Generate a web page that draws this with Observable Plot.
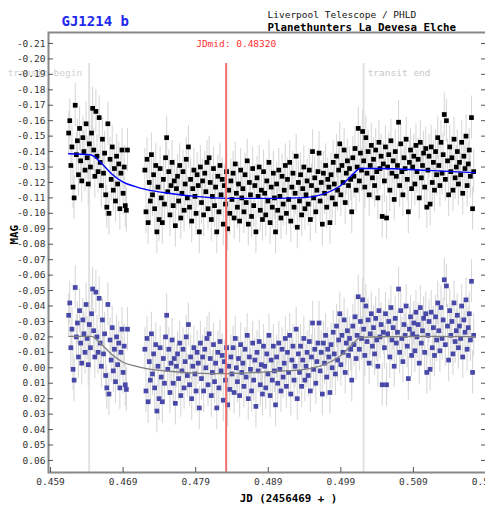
<!DOCTYPE html>
<html><head><meta charset="utf-8">
<script src="https://cdn.jsdelivr.net/npm/d3@7"></script>
<script src="https://cdn.jsdelivr.net/npm/@observablehq/plot@0.6"></script>
<style>html,body{margin:0;padding:0;overflow:hidden;background:#fff}#chart svg{max-width:none !important;}</style>
</head><body><div id="chart"></div>
<script>
// ---- texts ----
const titleText = "GJ1214 b";
const sourceLine1 = "Liverpool Telescope / PHLD";
const sourceLine2 = "Planethunters La Devesa Elche";
const xLabel = "JD (2456469 + )";
const yLabel = "MAG";
const midLabel = "JDmid: 0.48320";
const beginLabel = "transit begin";
const endLabel = "transit end";

// ---- events (JD - 2456469) ----
const jdMid = 0.48320;
const transitBegin = 0.46432;
const transitEnd = 0.50214;

// ---- ticks ----
const xTicks = [0.459, 0.469, 0.479, 0.489, 0.499, 0.509, 0.519];
const yTicks = [-0.21,-0.20,-0.19,-0.18,-0.17,-0.16,-0.15,-0.14,-0.13,-0.12,-0.11,-0.10,-0.09,-0.08,-0.07,-0.06,-0.05,-0.04,-0.03,-0.02,-0.01,0.00,0.01,0.02,0.03,0.04,0.05,0.06];

// ---- observation segments (start JD, cadence) ----
const seg1Start = 0.4615;
const seg2Start = 0.4720;
const cadence = 0.00015;
const magError = 0.014;

// raw magnitudes, milli-mag
const seg1Raw = [
-152,-160,-131,-143,-117,-110,-170,-138,-147,-125,
-155,-134,-121,-149,-140,-128,-158,-136,-119,-145,
-130,-152,-168,-141,-124,-166,-137,-127,-162,-133,
-118,-148,-126,-139,-112,-104,-158,-100,-135,-122,
-143,-115,-129,-108,-137,-119,-132,-103,-126,-141,
-113,-130,-105,-102,-141];
const seg2Raw = [
-128,-101,-135,-94,-120,-108,-138,-112,-125,-103,
-131,-88,-117,-96,-129,-110,-94,-122,-106,-136,
-149,-114,-127,-99,-118,-133,-105,-121,-92,-116,
-124,-108,-131,-97,-113,-127,-102,-119,-135,-110,
-143,-104,-122,-95,-116,-128,-111,-100,-125,-118,
-88,-130,-107,-121,-99,-126,-114,-133,-103,-136,
-120,-96,-111,-129,-105,-117,-88,-124,-101,-131,
-112,-122,-93,-118,-106,-127,-90,-115,-100,-121,
-109,-126,-97,-132,-113,-104,-119,-95,-128,-110,
-116,-101,-125,-107,-134,-93,-120,-112,-98,-129,
-105,-118,-88,-123,-111,-130,-102,-115,-96,-127,
-113,-99,-121,-108,-133,-94,-117,-104,-126,-110,
-88,-119,-102,-128,-111,-97,-124,-106,-115,-131,
-100,-122,-109,-133,-95,-117,-126,-104,-113,-137,
-91,-120,-108,-125,-99,-116,-130,-103,-112,-121,
-106,-128,-96,-118,-140,-110,-123,-101,-115,-127,
-139,-108,-120,-93,-126,-113,-131,-104,-122,-117,
-94,-125,-110,-133,-119,-106,-137,-115,-128,-145,
-112,-131,-120,-141,-107,-126,-134,-118,-129,-122,
-101,-136,-124,-142,-115,-130,-155,-121,-139,-128,
-153,-134,-117,-149,-126,-140,-112,-131,-144,-123,
-135,-118,-141,-127,-110,-146,-129,-137,-98,-132,
-121,-143,-97,-130,-138,-115,-147,-126,-134,-109,
-140,-124,-131,-159,-118,-145,-127,-112,-136,-129,
-148,-122,-101,-133,-141,-116,-130,-137,-119,-144,
-127,-135,-110,-146,-123,-131,-139,-117,-142,-104,
-128,-137,-106,-143,-120,-133,-115,-140,-125,-149,
-131,-118,-146,-126,-138,-164,-122,-160,-134,-112,
-143,-127,-136,-115,-148,-123,-130,-140,-119,-133,
-125,-146,-113,-137,-129,-150,-118,-132,-141,-124,
-162,-103,-127];

// detrended magnitudes, milli-mag
const seg1Det = [
-34,-42,-13,-25,1,8,-52,-20,-29,-7,
-37,-16,-3,-31,-22,-10,-41,-19,-2,-28,
-13,-35,-51,-24,-7,-49,-20,-10,-45,-16,
-1,-31,-9,-22,5,13,-41,17,-18,-5,
-26,2,-12,9,-20,-2,-16,13,-10,-25,
3,-14,11,14,-25];
const seg2Det = [
-12,15,-19,22,-4,8,-22,4,-9,13,
-15,28,-1,20,-13,6,22,-6,10,-20,
-34,1,-12,16,-3,-18,10,-6,23,-1,
-9,7,-16,18,2,-12,13,-4,-20,5,
-28,11,-7,20,-1,-13,4,15,-10,-3,
26,-16,7,-7,15,-12,0,-19,11,-22,
-6,18,3,-15,9,-3,26,-10,13,-17,
2,-8,21,-4,8,-13,24,-1,14,-7,
4,-13,16,-19,0,9,-6,18,-15,3,
-3,12,-12,6,-21,20,-7,1,15,-16,
8,-5,25,-10,2,-17,11,-2,17,-14,
-1,13,-9,4,-21,18,-5,8,-14,2,
24,-7,10,-16,1,15,-12,6,-3,-19,
12,-10,3,-21,17,-5,-14,8,-1,-25,
20,-9,3,-14,12,-5,-19,8,-1,-10,
5,-17,15,-7,-29,1,-12,10,-4,-16,
-29,2,-10,17,-16,-3,-21,6,-12,-7,
16,-15,0,-23,-9,4,-27,-5,-18,-35,
-2,-21,-10,-31,3,-16,-24,-8,-19,-12,
8,-27,-15,-33,-6,-21,-46,-12,-30,-19,
-44,-25,-8,-40,-17,-31,-3,-22,-35,-14,
-26,-9,-32,-18,-1,-37,-20,-28,11,-23,
-13,-35,11,-22,-30,-7,-39,-18,-26,-1,
-32,-16,-23,-51,-10,-37,-19,-4,-28,-21,
-40,-14,7,-25,-33,-8,-22,-29,-11,-36,
-20,-28,-3,-39,-16,-24,-32,-10,-35,3,
-21,-30,1,-36,-13,-26,-8,-33,-18,-42,
-24,-11,-39,-19,-31,-57,-15,-53,-27,-5,
-37,-21,-30,-9,-42,-17,-24,-34,-13,-27,
-19,-40,-7,-31,-23,-44,-12,-26,-35,-18,
-56,3,-21];

// model curves, milli-mag
const fitJD  = [0.4615,0.4646,0.4660,0.4674,0.4690,0.4706,0.4721,0.4758,0.4790,0.4832,0.4900,0.4940,0.4968,0.4990,0.5005,0.5017,0.5045,0.5110,0.5175];
const fitRaw = [-138.6,-137.8,-132.5,-125.7,-120.2,-117.5,-115.5,-112.7,-111.0,-109.7,-109.7,-110.2,-112.8,-118.0,-124.5,-129.0,-129.0,-127.8,-126.3];
const fitDet = [-20.4,-20.3,-15.3,-8.8,-3.6,-1.3,0.4,2.4,3.4,3.8,2.3,1.0,-2.2,-7.9,-14.7,-19.5,-20.1,-20.3,-20.2];

// ---- build tables ----
function rows(seg1, seg2) {
  const out = [];
  seg1.forEach((m, i) => out.push({jd: seg1Start + i * cadence, mag: m / 1000}));
  seg2.forEach((m, i) => out.push({jd: seg2Start + i * cadence, mag: m / 1000}));
  return out;
}
const rawRows = rows(seg1Raw, seg2Raw);
const detRows = rows(seg1Det, seg2Det);
const fitRawRows = fitJD.map((jd, i) => ({jd, mag: fitRaw[i] / 1000}));
const fitDetRows = fitJD.map((jd, i) => ({jd, mag: fitDet[i] / 1000}));

const mono = "'DejaVu Sans Mono', monospace";
const fmtY = v => (v < -1e-9 ? "-" : "") + Math.abs(v).toFixed(2);

const chart = Plot.plot({
  width: 500, height: 506,
  marginLeft: 48, marginRight: 14, marginTop: 32, marginBottom: 34,
  style: {fontFamily: mono, fontSize: "9.5px", color: "#333", background: "#fff", overflow: "visible", maxWidth: "none"},
  x: {domain: [0.45872, 0.51907]},
  y: {domain: [0.0678, -0.2171]},
  marks: [
    Plot.ruleX([transitBegin, transitEnd], {x: d => d, stroke: "#e2e2e2", strokeWidth: 2, insetTop: 31}),
    Plot.ruleX(rawRows, {x: "jd", y1: d => d.mag - magError, y2: d => d.mag + magError, stroke: "#d8d8d8", strokeWidth: 1.1}),
    Plot.ruleX(detRows, {x: "jd", y1: d => d.mag - magError, y2: d => d.mag + magError, stroke: "#d8d8d8", strokeWidth: 1.1}),
    Plot.dot(rawRows, {x: "jd", y: "mag", symbol: "square", r: 2.65, fill: "#000", stroke: "none"}),
    Plot.dot(detRows, {x: "jd", y: "mag", symbol: "square", r: 2.65, fill: "#4848a8", stroke: "none"}),
    Plot.line(fitRawRows, {x: "jd", y: "mag", stroke: "#0000ff", strokeWidth: 1.4, curve: "monotone-x"}),
    Plot.line(fitDetRows, {x: "jd", y: "mag", stroke: "#808080", strokeWidth: 1.3, curve: "monotone-x"}),
    Plot.ruleX([jdMid], {x: d => d, stroke: "#f07070", strokeWidth: 2, insetTop: 31}),
    Plot.frame({stroke: "#888", strokeWidth: 2}),
    Plot.tickX(xTicks, {x: d => d, insetTop: 435, stroke: "#555"}),
    Plot.tickY(yTicks, {y: d => d, insetRight: 433, stroke: "#555"}),
    Plot.tickY(yTicks, {y: d => d, insetLeft: 433, stroke: "#555"}),
    Plot.axisX({ticks: xTicks, tickSize: 0, tickPadding: 6, tickFormat: d3.format(".3f"), label: null}),
    Plot.text([beginLabel], {text: d => d, x: () => transitBegin, frameAnchor: "top", dx: -7, dy: 40, textAnchor: "end", lineAnchor: "middle", fill: "#d0d0d0"}),
    Plot.axisY({ticks: yTicks, tickSize: 0, tickPadding: 3, tickFormat: fmtY, label: null}),
    Plot.text([midLabel], {text: d => d, x: () => jdMid, frameAnchor: "top", dx: -30, dy: 11, textAnchor: "start", lineAnchor: "middle", fill: "#ff3030"}),
    Plot.text([endLabel], {text: d => d, x: () => transitEnd, frameAnchor: "top", dx: 4, dy: 40, textAnchor: "start", lineAnchor: "middle", fill: "#c8c8c8"}),
    Plot.text([titleText], {text: d => d, frameAnchor: "top-left", dx: 13, dy: -11, textAnchor: "start", lineAnchor: "middle", fontSize: 14, fontWeight: "bold", fill: "#1e28f0"}),
    Plot.text([sourceLine1], {text: d => d, frameAnchor: "top-left", dx: 219, dy: -18, textAnchor: "start", lineAnchor: "middle", fill: "#111"}),
    Plot.text([sourceLine2], {text: d => d, frameAnchor: "top-left", dx: 219, dy: -5, textAnchor: "start", lineAnchor: "middle", fontSize: 10.8, fontWeight: "bold", fill: "#000"}),
    Plot.text([xLabel], {text: d => d, frameAnchor: "bottom", dx: 21, dy: 26, lineAnchor: "middle", fontSize: 10.8, fontWeight: "bold", fill: "#000"}),
    Plot.text([yLabel], {text: d => d, frameAnchor: "left", dx: -34, dy: -8, rotate: -90, lineAnchor: "middle", fontSize: 10.8, fontWeight: "bold", fill: "#000"})
  ]
});
document.getElementById("chart").appendChild(chart);
</script></body></html>
